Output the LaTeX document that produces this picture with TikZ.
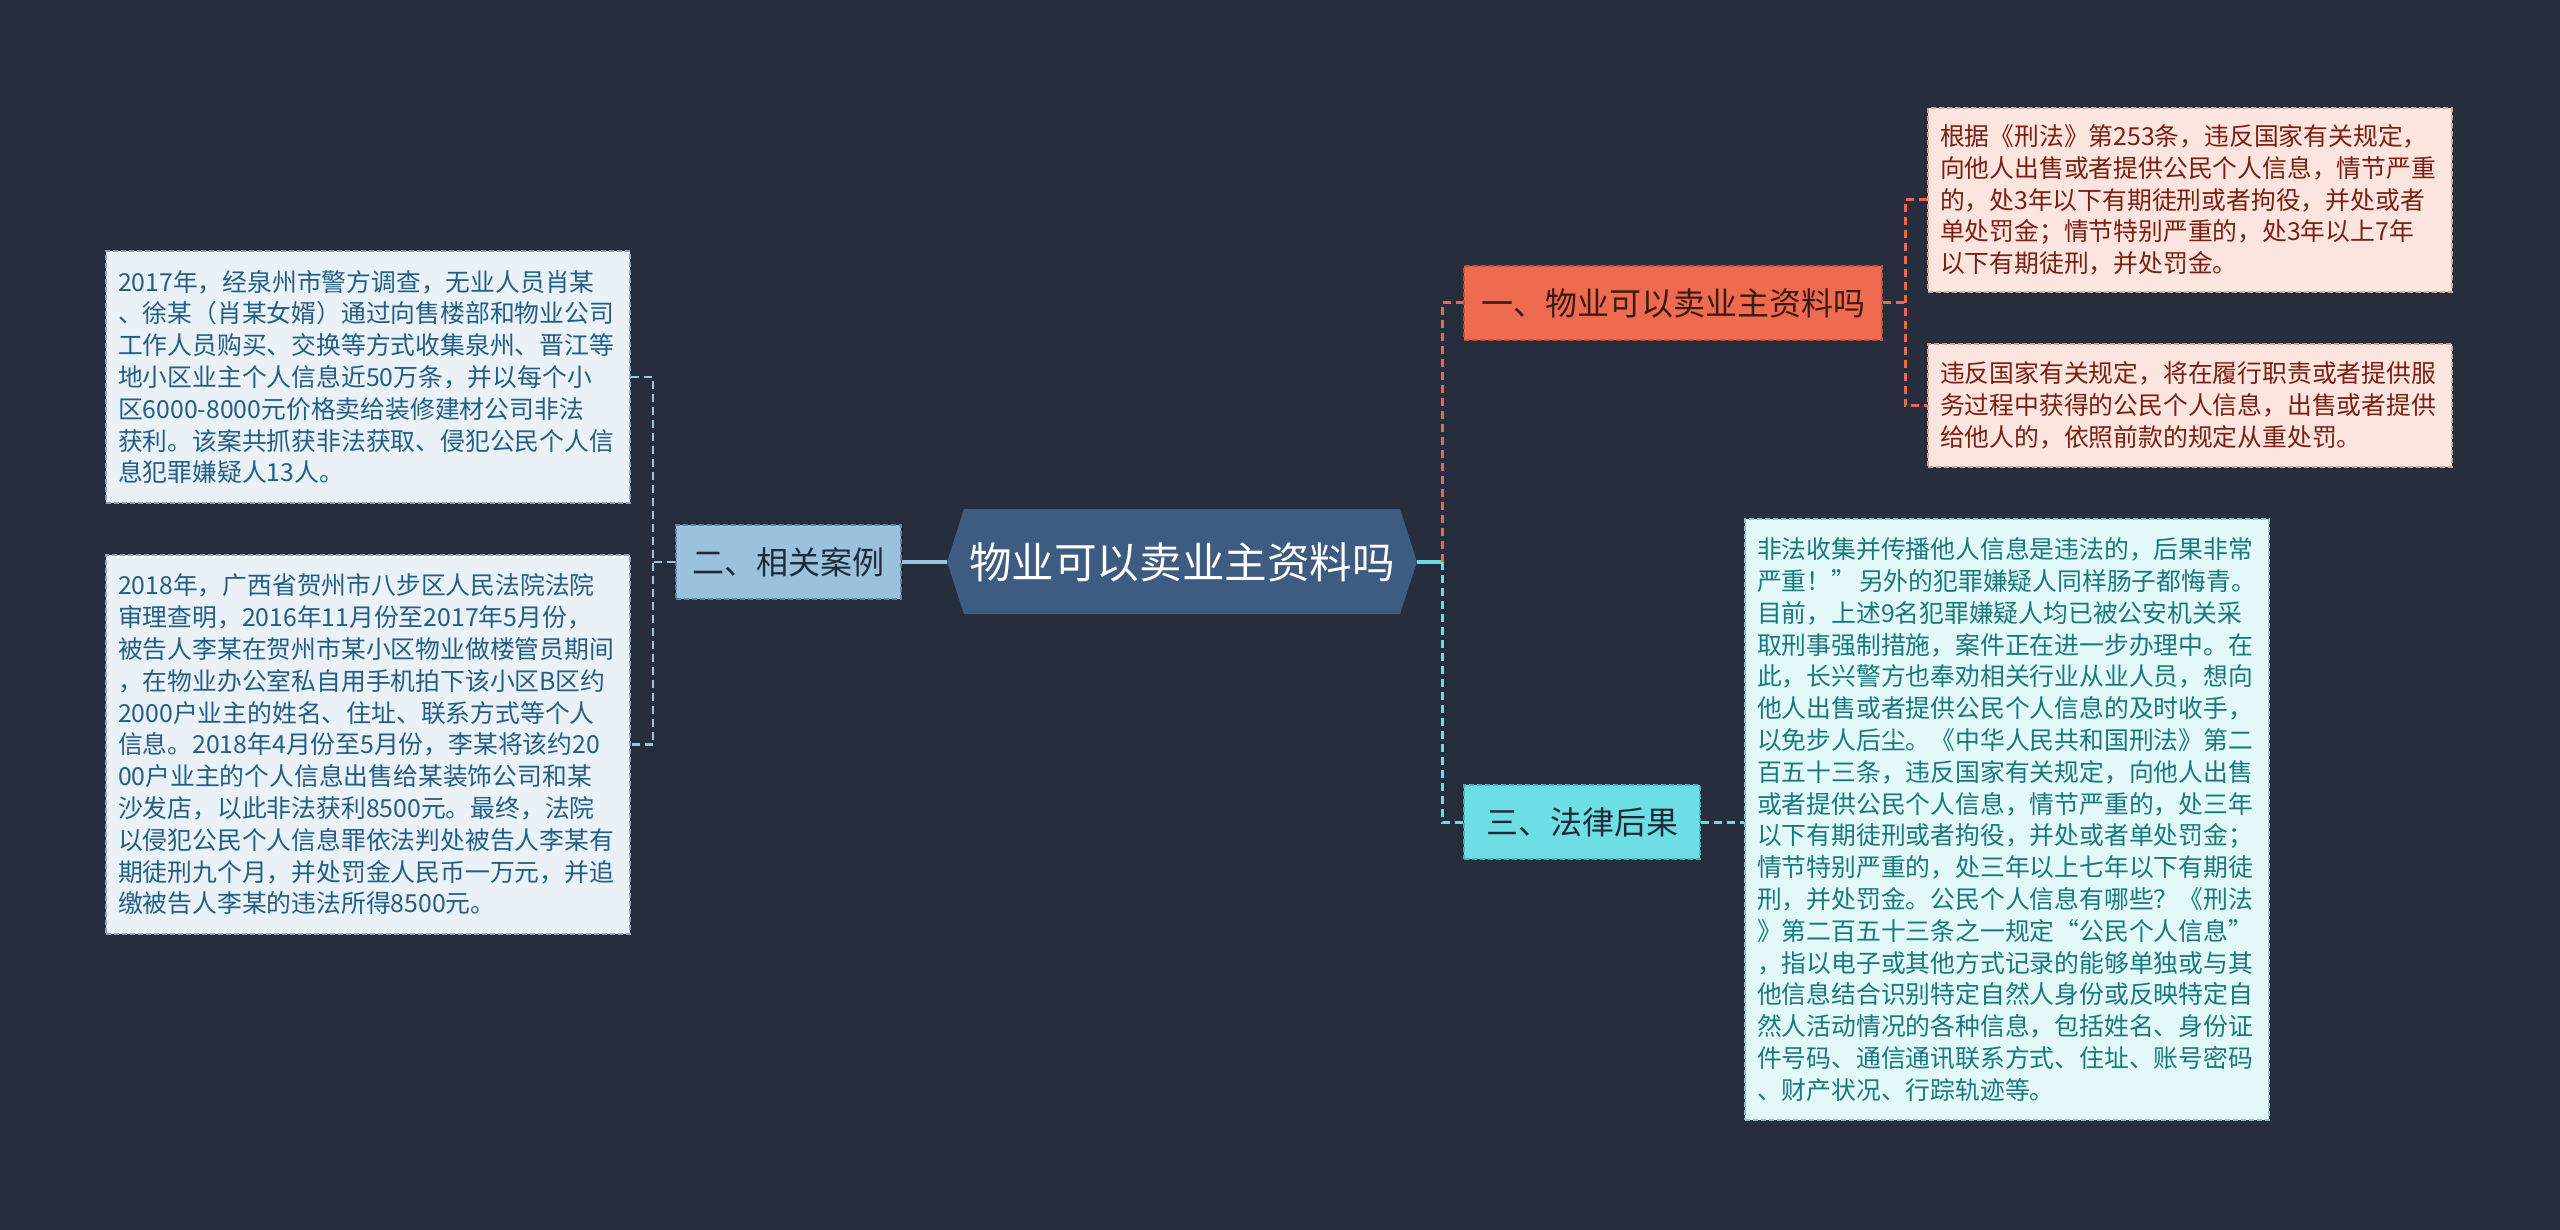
\documentclass[tikz,border=0pt]{standalone}
\usepackage{fontspec}
\setmainfont{Noto Sans CJK SC}
\definecolor{bgc}{HTML}{262E3D}
\definecolor{rootc}{HTML}{3E5B81}
\definecolor{twoc}{HTML}{9BC2DD}
\definecolor{twob}{HTML}{5E86A4}
\definecolor{onec}{HTML}{EE6B4F}
\definecolor{oneb}{HTML}{C4503A}
\definecolor{threec}{HTML}{6EDEE5}
\definecolor{threeb}{HTML}{45B3BC}
\definecolor{lfill}{HTML}{EAF2F8}
\definecolor{ltext}{HTML}{235E86}
\definecolor{lbord}{HTML}{8AA5BA}
\definecolor{rfill}{HTML}{FDE5DF}
\definecolor{rtext}{HTML}{7B1F12}
\definecolor{rbord}{HTML}{D5A294}
\definecolor{cfill}{HTML}{E3F8F9}
\definecolor{ctext}{HTML}{18797E}
\definecolor{cbord}{HTML}{88C7CA}
\definecolor{darktxt}{HTML}{1F2A38}
\definecolor{onetxt}{HTML}{3A1A12}
\definecolor{lconnc}{HTML}{9DC3DE}
\definecolor{oconnc}{HTML}{E8694B}
\definecolor{cconnc}{HTML}{6ADCE4}
\begin{document}
\begin{tikzpicture}[x=0.5pt,y=-0.5pt,
  txtbox/.style={draw, line width=0.7pt, dash pattern=on 2.5pt off 1.5pt,
    text width=250pt, inner xsep=6pt, inner ysep=0pt, align=left,
    font=\fontsize{12.4}{15.9}\selectfont},
  catbox/.style={draw, line width=0.7pt, dash pattern=on 2.5pt off 1.5pt,
    inner sep=0pt, minimum height=37pt, font=\fontsize{16}{19}\selectfont},
  lconn/.style={draw=lconnc, line width=1.2pt, dash pattern=on 4pt off 2.5pt},
  oconn/.style={draw=oconnc, line width=1.5pt, dash pattern=on 4pt off 2.5pt},
  cconn/.style={draw=cconnc, line width=1.5pt, dash pattern=on 4pt off 2.5pt},
  lsolid/.style={draw=lconnc, line width=2pt},
  csolid/.style={draw=cconnc, line width=2pt}]
\useasboundingbox (0,0) rectangle (2560,1230);
\fill[bgc] (0,0) rectangle (2560,1230);

% central hexagon
\fill[rootc] (947,562) -- (964,509) -- (1400,509) -- (1417,562) -- (1400,614) -- (964,614) -- cycle;
\node[minimum width=235pt, minimum height=52.5pt, inner sep=0pt, text=white,
  font=\fontsize{21.3}{25}\selectfont] (root) at (1182,562) {物业可以卖业主资料吗};

% category nodes
\node[catbox, fill=twoc, draw=twob, text=darktxt, minimum width=112.5pt] (c2) at (788.5,562) {二、相关案例};
\node[catbox, fill=onec, draw=oneb, text=onetxt, minimum width=209pt] (c1) at (1673,303) {一、物业可以卖业主资料吗};
\node[catbox, fill=threec, draw=threeb, text=darktxt, minimum width=118pt] (c3) at (1582,822) {三、法律后果};

% left text boxes
\node[txtbox, fill=lfill, draw=lbord, text=ltext, minimum height=126pt] (L1) at (368,377) {2017年，经泉州市警方调查，无业人员肖某\\
、徐某（肖某女婿）通过向售楼部和物业公司\\
工作人员购买、交换等方式收集泉州、晋江等\\
地小区业主个人信息近50万条，并以每个小\\
区6000-8000元价格卖给装修建材公司非法\\
获利。该案共抓获非法获取、侵犯公民个人信\\
息犯罪嫌疑人13人。};
\node[txtbox, fill=lfill, draw=lbord, text=ltext, minimum height=189.5pt] (L2) at (368,744.5) {2018年，广西省贺州市八步区人民法院法院\\
审理查明，2016年11月份至2017年5月份，\\
被告人李某在贺州市某小区物业做楼管员期间\\
，在物业办公室私自用手机拍下该小区B区约\\
2000户业主的姓名、住址、联系方式等个人\\
信息。2018年4月份至5月份，李某将该约20\\
00户业主的个人信息出售给某装饰公司和某\\
沙发店，以此非法获利8500元。最终，法院\\
以侵犯公民个人信息罪依法判处被告人李某有\\
期徒刑九个月，并处罚金人民币一万元，并追\\
缴被告人李某的违法所得8500元。};

% right text boxes
\node[txtbox, fill=rfill, draw=rbord, text=rtext, minimum height=92pt] (R1) at (2190,200) {根据《刑法》第253条，违反国家有关规定，\\
向他人出售或者提供公民个人信息，情节严重\\
的，处3年以下有期徒刑或者拘役，并处或者\\
单处罚金；情节特别严重的，处3年以上7年\\
以下有期徒刑，并处罚金。};
\node[txtbox, fill=rfill, draw=rbord, text=rtext, minimum height=61.5pt] (R2) at (2190,405.5) {违反国家有关规定，将在履行职责或者提供服\\
务过程中获得的公民个人信息，出售或者提供\\
给他人的，依照前款的规定从重处罚。};
\node[txtbox, fill=cfill, draw=cbord, text=ctext, minimum height=300.5pt] (R3) at (2007,819.5) {非法收集并传播他人信息是违法的，后果非常\\
严重！”\kern 1.5pt另外的犯罪嫌疑人同样肠子都悔青。\\
目前，上述9名犯罪嫌疑人均已被公安机关采\\
取刑事强制措施，案件正在进一步办理中。在\\
此，长兴警方也奉劝相关行业从业人员，想向\\
他人出售或者提供公民个人信息的及时收手，\\
以免步人后尘。《中华人民共和国刑法》第二\\
百五十三条，违反国家有关规定，向他人出售\\
或者提供公民个人信息，情节严重的，处三年\\
以下有期徒刑或者拘役，并处或者单处罚金；\\
情节特别严重的，处三年以上七年以下有期徒\\
刑，并处罚金。公民个人信息有哪些？《刑法\\
》第二百五十三条之一规定“公民个人信息”\\
，指以电子或其他方式记录的能够单独或与其\\
他信息结合识别特定自然人身份或反映特定自\\
然人活动情况的各种信息，包括姓名、身份证\\
件号码、通信通讯联系方式、住址、账号密码\\
、财产状况、行踪轨迹等。};

% connectors
\coordinate (lj) at (653,562);
\coordinate (rj) at (1442,562);
\coordinate (oj) at (1905,303);
\draw[lsolid] (root.west) -- (c2.east);
\draw[lconn] (c2.west) -- (lj);
\draw[lconn] (L1.east) -- (L1.east -| lj) -- (L2.east -| lj) -- (L2.east);
\draw[csolid] (root.east) -- (rj);
\draw[oconn] (rj) |- (c1.west);
\draw[cconn] (rj) |- (c3.west);
\draw[oconn] (c1.east) -- (oj);
\draw[oconn] (R1.west) -- (R1.west -| oj) -- (R2.west -| oj) -- (R2.west);
\draw[cconn] (c3.east) -- (R3.west |- c3.east);
\end{tikzpicture}
\end{document}
